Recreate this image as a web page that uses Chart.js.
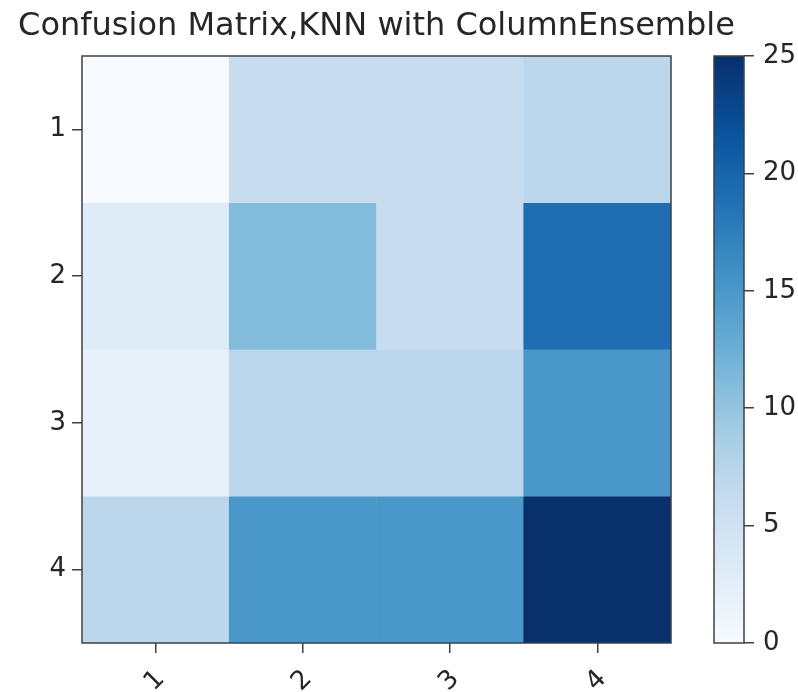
<!DOCTYPE html>
<html>
<head>
<meta charset="utf-8">
<script src="https://cdn.jsdelivr.net/npm/chart.js@4.4.0/dist/chart.umd.min.js"></script>
<style>
body { margin: 0; background: #fff; width: 798px; height: 692px; position: relative; overflow: hidden; }
#heat { position: absolute; left: 0; top: 0; }
#cbar { position: absolute; left: 700px; top: 0; }
</style>
</head>
<body>
<canvas id="heat" width="753" height="692"></canvas>
<canvas id="cbar" width="98" height="692"></canvas>
<script>
// class labels (true label = rows, predicted = columns)
var classLabels = ['1', '2', '3', '4'];

// counts, one array per true class
var row1 = [0, 6, 6, 7];
var row2 = [3, 11, 6, 19];
var row3 = [2, 7, 7, 15];
var row4 = [7, 15, 15, 25];
var rows = [row1, row2, row3, row4];

// colorbar range and ticks
var cbMin = 0;
var cbMax = 25;
var cbTicks = [0, 5, 10, 15, 20, 25];

// matplotlib "Blues"
var blues = ['#f7fbff', '#deebf7', '#c6dbef', '#9ecae1', '#6baed6', '#4292c6', '#2171b5', '#08519c', '#08306b'];

function hexRgb(h) {
    return [parseInt(h.substr(1, 2), 16), parseInt(h.substr(3, 2), 16), parseInt(h.substr(5, 2), 16)];
}

function blueAt(v) {
    var t = (v - cbMin) / (cbMax - cbMin);
    t = Math.max(0, Math.min(1, t));
    var pos = t * (blues.length - 1);
    var k = Math.min(Math.floor(pos), blues.length - 2);
    var f = pos - k;
    var a = hexRgb(blues[k]), b = hexRgb(blues[k + 1]);
    var c = [0, 1, 2].map(function(j) { return Math.round(a[j] + (b[j] - a[j]) * f); });
    return 'rgb(' + c.join(',') + ')';
}

var textColor = '#262626';
var lineColor = '#404040';
var fontFamily = '"DejaVu Sans", sans-serif';
var tickFont = { family: fontFamily, size: 26 };

// draws the box round the plot area
var framePlugin = {
    id: 'frame',
    afterDraw: function(chart) {
        var a = chart.chartArea;
        var ctx = chart.ctx;
        ctx.save();
        ctx.strokeStyle = lineColor;
        ctx.lineWidth = 1.5;
        ctx.strokeRect(a.left, a.top, a.right - a.left, a.bottom - a.top);
        ctx.restore();
    }
};

var datasets = [];
rows.forEach(function(vals, i) {
    datasets.push({
        label: classLabels[i],
        data: vals.map(function() { return [i + 0.5, i + 1.5]; }),
        backgroundColor: vals.map(blueAt),
        grouped: false,
        barPercentage: 1,
        categoryPercentage: 1,
        borderWidth: 0
    });
});

new Chart(document.getElementById('heat'), {
    type: 'bar',
    data: {
        labels: classLabels,
        datasets: datasets
    },
    options: {
        responsive: false,
        animation: false,
        events: [],
        plugins: {
            legend: { display: false },
            tooltip: { enabled: false },
            title: {
                display: true,
                text: 'Confusion Matrix,KNN with ColumnEnsemble',
                color: textColor,
                font: { family: fontFamily, size: 32, weight: 'normal' },
                padding: { top: 7, bottom: 10.6 }
            }
        },
        scales: {
            x: {
                type: 'category',
                grid: { offset: false, drawOnChartArea: false, tickLength: 10, color: lineColor, lineWidth: 1.5 },
                border: { display: false },
                ticks: {
                    color: textColor,
                    font: tickFont,
                    minRotation: 45,
                    maxRotation: 45,
                    padding: 11,
                    labelOffset: 5
                },
                afterFit: function(s) { s.height = 49; }
            },
            y: {
                type: 'linear',
                reverse: true,
                min: 0.5,
                max: 4.5,
                grid: { drawOnChartArea: false, tickLength: 10, color: lineColor, lineWidth: 1.5 },
                border: { display: false },
                ticks: {
                    color: textColor,
                    font: tickFont,
                    padding: 6,
                    callback: function(v) { return classLabels[Math.round(v) - 1]; }
                },
                afterBuildTicks: function(s) {
                    s.ticks = classLabels.map(function(l, i) { return { value: i + 1 }; });
                },
                afterFit: function(s) { s.width = 82; }
            },
            spacer: {
                type: 'linear',
                position: 'right',
                grid: { display: false },
                border: { display: false },
                ticks: { display: false },
                afterFit: function(s) { s.width = 82; }
            }
        }
    },
    plugins: [framePlugin]
});

new Chart(document.getElementById('cbar'), {
    type: 'bar',
    data: {
        labels: [''],
        datasets: [{
            data: [[cbMin, cbMax]],
            barPercentage: 1,
            categoryPercentage: 1,
            borderWidth: 0,
            backgroundColor: function(c) {
                var chart = c.chart;
                if (!chart.chartArea) return blues[4];
                var y = chart.scales.y;
                var g = chart.ctx.createLinearGradient(0, y.getPixelForValue(cbMin), 0, y.getPixelForValue(cbMax));
                blues.forEach(function(col, k) { g.addColorStop(k / (blues.length - 1), col); });
                return g;
            }
        }]
    },
    options: {
        responsive: false,
        animation: false,
        events: [],
        layout: { padding: { left: 14, top: 56, bottom: 49 } },
        plugins: {
            legend: { display: false },
            tooltip: { enabled: false }
        },
        scales: {
            x: { display: false },
            y: {
                position: 'right',
                min: cbMin,
                max: cbMax,
                grid: { drawOnChartArea: false, tickLength: 10, color: lineColor, lineWidth: 1.5 },
                border: { display: false },
                ticks: {
                    color: textColor,
                    font: tickFont,
                    padding: 9
                },
                afterBuildTicks: function(s) {
                    s.ticks = cbTicks.map(function(v) { return { value: v }; });
                },
                afterFit: function(s) { s.width = 54; }
            }
        }
    },
    plugins: [framePlugin]
});
</script>
</body>
</html>
